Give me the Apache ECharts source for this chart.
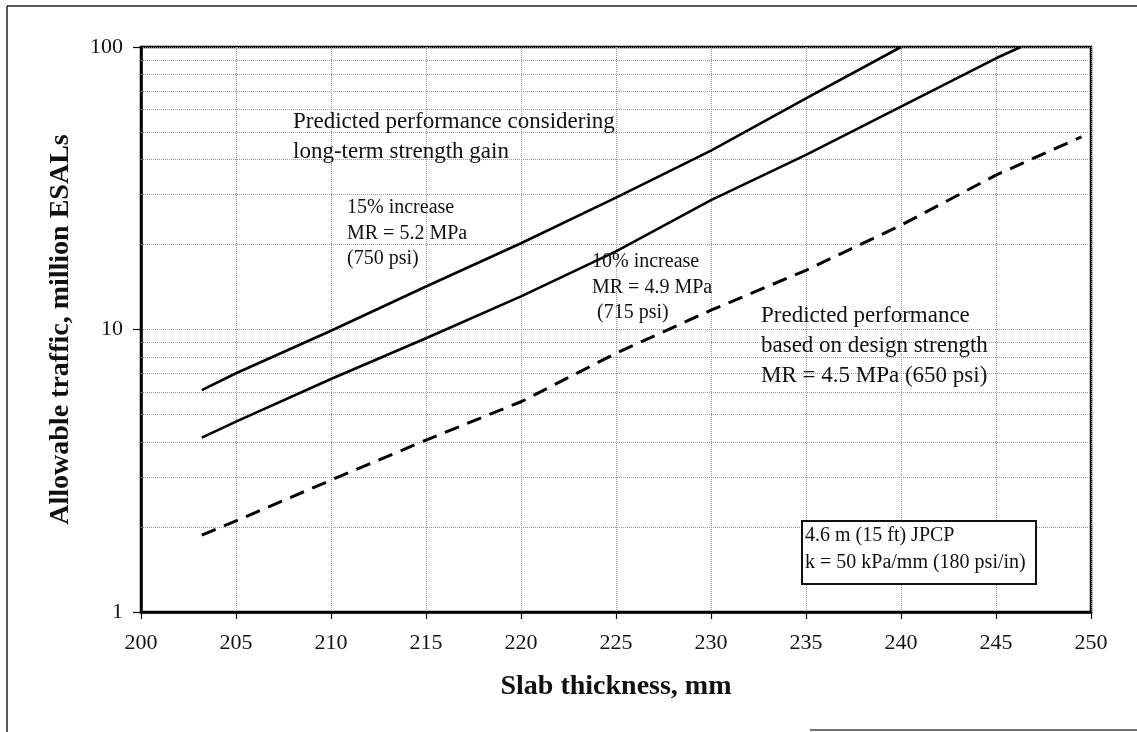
<!DOCTYPE html>
<html>
<head>
<meta charset="utf-8">
<script src="https://cdn.jsdelivr.net/npm/echarts@6/dist/echarts.min.js"></script>
<style>
html,body{margin:0;padding:0;background:#fff;}
#chart{width:1137px;height:732px;}
</style>
</head>
<body>
<div id="chart"></div>
<script>
// ---- Data ----
const thickness15 = [203.2, 205, 210, 215, 220, 225, 230, 235, 240];
const esals15 = [6.1, 7.0, 9.9, 14.2, 20.2, 29.3, 43.0, 65.8, 100];

const thickness10 = [203.2, 205, 210, 215, 220, 225, 230, 235, 240, 245, 246.3];
const esals10 = [4.14, 4.72, 6.68, 9.31, 13.1, 18.9, 28.7, 41.5, 61.5, 91.2, 100];

const thicknessDesign = [203.2, 205, 210, 215, 220, 225, 230, 235, 240, 245, 249.5];
const esalsDesign = [1.87, 2.1, 2.93, 4.06, 5.55, 8.24, 11.7, 16.2, 23.4, 35.2, 48.1];

const minorGridValues = [2, 3, 4, 5, 6, 7, 8, 9, 20, 30, 40, 50, 60, 70, 80, 90];

const xMin = 200, xMax = 250, xStep = 5;
const yMin = 1, yMax = 100;

const xTitle = 'Slab thickness, mm';
const yTitle = 'Allowable traffic, million ESALs';

const noteLongTerm = ['Predicted performance considering', 'long-term strength gain'];
const note15 = ['15% increase', 'MR = 5.2 MPa', '(750 psi)'];
const note10 = ['10% increase', 'MR = 4.9 MPa', ' (715 psi)'];
const noteDesign = ['Predicted performance', 'based on design strength', 'MR = 4.5 MPa (650 psi)'];
const noteBox = ['4.6 m (15 ft) JPCP', 'k = 50 kPa/mm (180 psi/in)'];

// ---- Chart ----
const FONT = '"Liberation Serif", "Times New Roman", serif';
const chart = echarts.init(document.getElementById('chart'), null, {renderer: 'canvas'});

function pairs(xs, ys) { return xs.map((x, i) => [x, ys[i]]); }

function textLines(lines, x, y0, dy, size) {
  return lines.map((t, i) => ({
    type: 'text',
    left: x,
    top: y0 + i * dy - size / 2,
    style: {text: t, font: size + 'px ' + FONT, fill: '#111'},
    z: 100
  }));
}

const graphics = [
  // outer figure frame
  {type: 'line', shape: {x1: 7, y1: 6, x2: 1137, y2: 6}, style: {stroke: '#222', lineWidth: 1.5}},
  {type: 'line', shape: {x1: 7, y1: 6, x2: 7, y2: 732}, style: {stroke: '#222', lineWidth: 1.5}},
  {type: 'line', shape: {x1: 810, y1: 730, x2: 1137, y2: 730}, style: {stroke: '#444', lineWidth: 1.5}},
  // note box
  {type: 'rect', shape: {x: 802, y: 521, width: 234, height: 63},
   style: {fill: '#fff', stroke: '#111', lineWidth: 2}, z: 90}
].concat(
  textLines(noteLongTerm, 293, 122, 30, 23),
  textLines(note15, 347, 208, 25.5, 20),
  textLines(note10, 592, 262, 25.5, 20),
  textLines(noteDesign, 761, 316, 30, 23),
  textLines(noteBox, 805, 536, 27, 20)
);

const dottedGrid = {type: 'dotted', color: '#9a9a9a', width: 1};

const option = {
  backgroundColor: '#fff',
  animation: false,
  grid: {left: 141, right: 46, top: 47, bottom: 120, show: true,
         borderColor: '#000', borderWidth: 2.5, backgroundColor: 'transparent'},
  xAxis: {
    type: 'value', min: xMin, max: xMax, interval: xStep,
    name: xTitle, nameLocation: 'middle', nameGap: 61,
    nameTextStyle: {fontFamily: FONT, fontWeight: 'bold', fontSize: 28, color: '#111'},
    axisLine: {show: true, lineStyle: {color: '#000', width: 2.5}},
    axisTick: {show: true, inside: false, length: 7, lineStyle: {color: '#000', width: 1.2}},
    axisLabel: {fontFamily: FONT, fontSize: 22, color: '#111', margin: 20},
    splitLine: {show: true, lineStyle: dottedGrid}
  },
  yAxis: {
    type: 'log', logBase: 10, min: yMin, max: yMax,
    name: yTitle, nameLocation: 'middle', nameGap: 66,
    nameTextStyle: {fontFamily: FONT, fontWeight: 'bold', fontSize: 28, color: '#111'},
    axisLine: {show: true, lineStyle: {color: '#000', width: 2.5}},
    axisTick: {show: true, inside: false, length: 8, lineStyle: {color: '#000', width: 1.2}},
    axisLabel: {fontFamily: FONT, fontSize: 22, color: '#111', margin: 18},
    splitLine: {show: true, lineStyle: dottedGrid},
    minorTick: {show: false},
    minorSplitLine: {show: false}
  },
  series: [
    {
      name: 'Minor grid', type: 'line', data: [], silent: true,
      markLine: {
        silent: true, symbol: ['none', 'none'], animation: false,
        label: {show: false},
        lineStyle: dottedGrid,
        data: minorGridValues.map(v => ({yAxis: v}))
      },
      z: 1
    },
    {
      name: '15% increase', type: 'line', data: pairs(thickness15, esals15),
      showSymbol: false, smooth: false,
      lineStyle: {color: '#000', width: 2.6, type: 'solid'}, z: 5
    },
    {
      name: '10% increase', type: 'line', data: pairs(thickness10, esals10),
      showSymbol: false, smooth: false,
      lineStyle: {color: '#000', width: 2.6, type: 'solid'}, z: 5
    },
    {
      name: 'Design strength', type: 'line', data: pairs(thicknessDesign, esalsDesign),
      showSymbol: false, smooth: false,
      lineStyle: {color: '#000', width: 3, type: [15, 9]}, z: 5
    }
  ],
  graphic: graphics
};
chart.setOption(option);
</script>
</body>
</html>
